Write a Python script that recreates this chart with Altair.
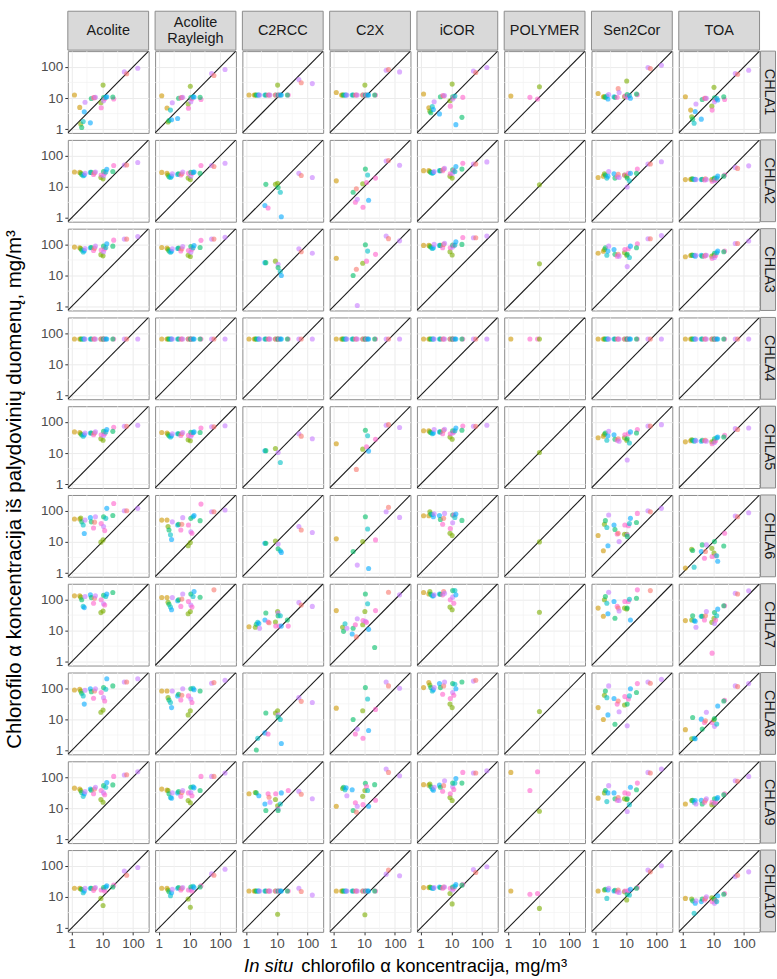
import altair as alt
import pandas as pd

N = None

METHODS = ["Acolite", "Acolite Rayleigh", "C2RCC", "C2X", "iCOR", "POLYMER", "Sen2Cor", "TOA"]
STRIP_LINES = [["Acolite"], ["Acolite", "Rayleigh"], ["C2RCC"], ["C2X"], ["iCOR"], ["POLYMER"], ["Sen2Cor"], ["TOA"]]
INDICES = ["CHLA1", "CHLA2", "CHLA3", "CHLA4", "CHLA5", "CHLA6", "CHLA7", "CHLA8", "CHLA9", "CHLA10"]

# in situ chlorophyll (mg/m3) of each sampling point, and its group (colour)
STATION_X = [1.25, 1.85, 2.0, 2.15, 2.4, 2.6, 2.75, 4.1, 4.4, 5.2, 5.6, 6.0, 9.0,
             9.2, 10.6, 11.0, 11.0, 12.0, 13.0, 14.0, 23.5, 22.0, 52.0, 62.0, 142.0]
STATION_GROUP = ["G2", "G2", "G3", "G4", "G5", "G6", "G7", "G6", "G4", "G8", "G1", "G7", "G3",
                 "G8", "G3", "G7", "G4", "G8", "G5", "G6", "G8", "G4", "G7", "G1", "G7"]
GROUPS = ["G1", "G2", "G3", "G4", "G5", "G6", "G7", "G8"]
GROUP_COLORS = ["#F8766D", "#CD9600", "#7CAE00", "#00BE67", "#00BFC4", "#00A9FF", "#C77CFF", "#FF61CC"]

ACOLITE = {
    "CHLA1": [12.5, 5.0, 1.48, 1.13, 1.76, 3.6, 7.3, 1.6, 9.7, 10.3, 10.3, 10.5, 7.1, 4.9, 26, 8.2, 10.3, 9.5, 10.5, 11, 9.3, 10.8, 69, 60, 90],
    "CHLA2": [30, 29, 27.5, 25, 22.5, 24, 27, 29, 29, 25, 28, 30, 20, 24, 18, 22.5, 31, 27, 30, 36.6, 48, 31, 50, 50, 60],
    "CHLA3": [82, 78, 74, 66, 57, 63, 74, 78, 80, 64, 76, 88, 47, 66, 43, 58, 88, 72, 80, 105, 137, 88, 148, 148, 180],
    "CHLA4": [65, 65, 65, 65, 65, 65, 65, 65, 65, 65, 65, 65, 65, 65, 65, 65, 65, 65, 65, 65, 65, 65, 65, 65, 65],
    "CHLA5": [48, 46, 42, 39, 35, 39, 44, 44, 44, 39, 44, 48, 29, 39, 26, 37, 50, 42, 48, 57, 68, 50, 73, 73, 78],
    "CHLA6": [54, 54, 58, 44, 35, 18.5, 50, 60, 44, 28, 43, 64, 9.8, 39, 11.6, 31, 64, 23, 57, 119, 171, 70, 100, 100, 119],
    "CHLA7": [131, 131, 119, 98, 60, 55, 125, 141, 115, 76, 110, 131, 38, 98, 43, 73, 137, 67, 125, 150, N, 167, N, N, N],
    "CHLA8": [88, 93, 82, 69, 57, 31, 86, 97, 78, 48, 82, 97, 17, 73, 20, 50, 105, 39, 93, 203, N, 119, 159, 159, 203],
    "CHLA9": [44, 41, 37, 32, 24, 29, 34, 41, 38, 29, 41, 47, 19, 37, 15.5, 31, 53, 27, 47, 67, 105, 56, 116, 118, 148],
    "CHLA10": [19, 19, 18, 17.6, 13.7, 15.5, 19, 19, 19, 16.3, 19, 20, 9, 16.7, 5.3, 17.6, 20, 15.5, 21, 23, 24, 21, 68, 50, 88],
}

ACOLITE_RAYLEIGH = {
    "CHLA1": [11.9, 4.8, 1.7, 1.9, 4.1, 2.0, 7.1, 2.2, 9.8, 10.2, 10.4, 10.5, 6.4, 4.7, 24, 7.6, 10.3, 9.5, 11, 10.8, 9, 10.5, 61, 53, 82],
    "CHLA2": [29, 27, 24, 21, 20, 22, 26, 25, 26, 24, 26, 30, 19, 27, 17, 22, 29, 27, 29, 30, 48, 27, 48, 45, 57],
    "CHLA3": [80, 76, 70, 62, 56, 60, 72, 74, 76, 62, 72, 86, 45, 64, 41, 56, 85, 70, 78, 92, 135, 80, 148, 148, 170],
    "CHLA4": [65, 65, 65, 65, 65, 65, 65, 65, 65, 65, 65, 65, 65, 65, 65, 65, 65, 65, 65, 65, 65, 65, 65, 65, 65],
    "CHLA5": [46, 44, 40, 36, 33, 36, 42, 42, 42, 37, 42, 46, 27, 37, 25, 35, 47, 40, 46, 48, 64, 46, 70, 70, 76],
    "CHLA6": [50, 50, 31, 24, 17, 12, 44, 35, 37, 24, 37, 60, 7.5, 35, 9.5, 21, 57, 19, 64, 70, 163, 48, 93, 93, 105],
    "CHLA7": [116, 116, 82, 70, 57, 47, 116, 91, 98, 60, 103, 151, 35, 86, 41, 67, 151, 57, 125, 180, N, 118, N, 204, N],
    "CHLA8": [82, 82, 50, 42, 35, 24, 82, 57, 64, 42, 60, 97, 14, 57, 19, 45, 97, 35, 100, 90, N, 82, 145, 152, 180],
    "CHLA9": [41, 38, 37, 29, 22, 21, 31, 31, 34, 24, 32, 37, 17.6, 31, 15, 32, 47, 25, 49, 45, 105, 37, 105, 105, 134],
    "CHLA10": [19, 19, 16.7, 14.8, 11, 13.7, 17.6, 19, 20, 16.7, 19, 20, 8.6, 16.7, 4.7, 17.6, 21, 15.5, 22, 20, 23, 21, 55, 50, 78],
}

C2RCC = {
    "CHLA1": [12.5, 12.5, 12.5, 12.5, 12.5, 12.5, 12.5, 12.5, 12.5, 12.5, 12.5, 12.5, 12.5, 12.5, 26, 12.5, 12.5, 12.5, 12.5, 12.5, 12.5, 12.5, 39, 31, 29],
    "CHLA2": [N, N, N, N, N, N, N, 2.5, 12, 2.1, N, N, 12, N, 13, N, 9.5, N, 6.7, 1.1, N, N, 27, 23, 20],
    "CHLA3": [N, N, N, N, N, N, N, 26, 26, N, N, N, 29, N, N, 23, 18, N, 13.4, 10, N, N, 73, 58, 52],
    "CHLA4": [65, 65, 65, 65, 65, 65, 65, 65, 65, 65, 65, 65, 65, 65, 65, 65, 65, 65, 65, 65, 65, 65, 65, 65, 65],
    "CHLA5": [N, N, N, N, N, N, N, 11.9, 12, N, N, N, 14, N, N, 10.5, N, N, 5, N, N, N, 42, 35, 29],
    "CHLA6": [N, N, N, N, N, N, N, 9, 9, N, N, N, 10.7, N, N, 8.6, 6, N, 5.2, 4.6, N, N, 31, 24, 20],
    "CHLA7": [13.4, N, 12.8, 16, 18.5, 17, 12, 22, 37, 19, 18, N, 19, 14, 41, 37, 30, 14, 30, 14, 14, 22, 80, 67, 60],
    "CHLA8": [N, N, N, 1.05, 2.5, N, N, 3.7, 16, 3.4, N, N, 16, N, 19, 14, 12, N, 10, 1.7, N, N, 50, 38, 35],
    "CHLA9": [29, N, 32, 31, N, 25, N, 13.7, 8.4, 29, 22.5, 15.5, 19, 29, 12, 9.5, 8.4, N, 13.7, 31, 37, N, 35, 28, 20],
    "CHLA10": [15.5, 15.5, 15.5, 15.5, 15.5, 15.5, 15.5, 15.5, 15.5, 15.5, 15.5, 15.5, 15.5, 15.5, 2.8, 15.5, 15.5, 15.5, 15.5, 15.5, 15.5, 15.5, 19, 15, 11.5],
}

C2X = {
    "CHLA1": [15, 12.5, 12.5, 12.5, 12.5, 12.5, 12.5, 12.5, 12.5, 12.5, 12.5, 12.5, 12.5, 12.5, 26, 12.5, 12.5, 12.5, 12.5, 12.5, 12.5, 12.5, 78, 82, 69],
    "CHLA2": [15.5, N, N, N, N, N, N, N, 6.7, 3.2, 8.6, 4, 12.5, 2.2, N, N, 37, 13.7, 24, 3.7, 19, N, 67, 70, 49],
    "CHLA3": [36, N, N, N, N, N, N, N, 10, N, 16, 1.1, 25, N, N, N, 98, 29, 61, N, 48, N, 186, 153, 130],
    "CHLA4": [65, 65, 65, 65, 65, 65, 65, 65, 65, 65, 65, 65, 65, 65, 65, 65, 65, 65, 65, 65, 65, 65, 65, 65, 65],
    "CHLA5": [20, N, N, N, N, N, N, N, N, N, 3, N, 13.4, N, N, N, 54, 16, 36, 11.6, 28, N, 78, 82, 66],
    "CHLA6": [12.5, N, N, N, N, N, N, N, 4.9, N, N, 1.8, 10.2, N, N, N, 64, N, 26, 1.4, 11.6, N, 93, 128, 61],
    "CHLA7": [44, N, 12.8, 9.5, 16.7, N, 12, 7.8, 12, 15.5, 6.3, 24, 15.5, 21, 41, 20, 151, 18.5, 73, 11, 44, 2.9, N, 170, 141],
    "CHLA8": [23, N, N, N, N, N, N, N, 10, 3.4, N, 4.9, 19, 2.5, N, N, 105, N, 45, 4.4, 21, N, 159, 119, 100],
    "CHLA9": [11.6, N, 43, 47, 39, 45, 25, 39, 8.4, 15, 7.5, 11.6, 24, 13, 37, N, 63, 50, 37, 11.6, 18, 57, 180, 141, 110],
    "CHLA10": [15.5, 15.5, 15.5, 15.5, 15.5, 15.5, 15.5, 15.5, 15.5, 15.5, 15.5, 15.5, 15.5, 15.5, 2.7, 15.5, 15.5, 15.5, 15.5, 15.5, 15.5, 15.5, 54, 73, 48],
}

ICOR = {
    "CHLA1": [13.4, 4.9, 3.8, 3.4, 5.3, 4.3, 7.6, 3.1, 11, 12, 11.6, 12, 8.2, 5.5, 28, 9.3, 11, 10.5, 11.6, 1.4, 10.5, 2.4, 74, 66, 95],
    "CHLA2": [33, 33, 31, 29, 27, 29, 31, 33, 33, 33, 37, 39, 22, 26, 19, 27, 35, 33, 31, 45, 57, 37, 54, 54, 63],
    "CHLA3": [93, 93, 88, 82, 74, 78, 100, 93, 93, 78, 100, 108, 58, 78, 46, 82, 95, 93, 95, 122, 167, 100, 163, 163, 185],
    "CHLA4": [65, 65, 65, 65, 65, 65, 65, 65, 65, 65, 65, 65, 65, 65, 65, 65, 65, 65, 65, 65, 65, 65, 65, 65, 65],
    "CHLA5": [52, 52, 48, 46, 42, 44, 57, 48, 48, 42, 54, 58, 33, 42, 28, 44, 52, 48, 52, 64, 74, 54, 73, 73, 78],
    "CHLA6": [69, 69, 93, 78, 76, 64, 80, 70, 52, 37, 57, 82, 19, 27, 16, 41, 73, 73, 61, 78, N, 49, N, N, N],
    "CHLA7": [167, 150, 180, 148, 131, 131, 141, 150, 148, 141, 180, 159, 57, 98, 47, 119, 193, 76, 193, 141, N, N, N, N, N],
    "CHLA8": [105, 152, 128, 105, 82, 90, 105, 141, 105, 64, 119, 159, 31, 47, 24, 73, 141, 60, 134, 97, N, 159, 170, 180, N],
    "CHLA9": [57, 55, 60, 49, 41, 38, 47, 55, 47, 35, 53, 76, 22, 29, 17.6, 49, 64, 40, 64, 90, 141, 64, 134, 134, 159],
    "CHLA10": [20, 20, 21, 20, 19, 19, 20, 21, 20, 19, 21, 21, 13, 19, 6, 16.7, 21, 19, 22, 25, 25, 24, 76, 61, 93],
}

POLYMER = {
    "CHLA1": [11.6, N, N, N, N, N, N, N, N, 10.5, N, N, N, 9.3, 23, N, N, N, N, N, N, N, N, N, N],
    "CHLA2": [N, N, N, N, N, N, N, N, N, N, N, N, N, N, 11.6, N, N, N, N, N, N, N, N, N, N],
    "CHLA3": [N, N, N, N, N, N, N, N, N, N, N, N, N, N, 24, N, N, N, N, N, N, N, N, N, N],
    "CHLA4": [65, N, N, N, N, N, N, N, N, 65, N, N, N, 65, 65, N, N, N, N, N, N, N, N, N, N],
    "CHLA5": [N, N, N, N, N, N, N, N, N, N, N, N, N, N, 10.5, N, N, N, N, N, N, N, N, N, N],
    "CHLA6": [N, N, N, N, N, N, N, N, N, N, N, N, N, N, 10, N, N, N, N, N, N, N, N, N, N],
    "CHLA7": [N, N, N, N, N, N, N, N, N, N, N, N, N, N, 39, N, N, N, N, N, N, N, N, N, N],
    "CHLA8": [N, N, N, N, N, N, N, N, N, N, N, N, N, N, 18, N, N, N, N, N, N, N, N, N, N],
    "CHLA9": [141, N, N, N, N, N, N, N, N, 37, N, N, N, 148, 8, N, N, N, N, N, N, N, N, N, N],
    "CHLA10": [15.5, N, N, N, N, N, N, N, N, 12.2, N, N, N, 13, 4.3, N, N, N, N, N, N, N, N, N, N],
}

SEN2COR = {
    "CHLA1": [14, 11, 11, 10.5, 11.6, 9.3, 13, 11, 10.5, 10.5, 20, 15, 11, 11.6, 35, 10.5, 13, 11.6, 12, 9.8, 12.8, 13.4, 95, 88, 113],
    "CHLA2": [20, 22, 26, 24, 19, 22, 31, 26, 19, 21, 25, 20, 24, 24, 22, 9.8, 19, 27, 15.5, 27, 37, 27, 54, 54, 64],
    "CHLA3": [52, 60, 69, 78, 45, 61, 88, 69, 48, 42, 48, 42, 54, 69, 45, 19.4, 48, 73, 38, 88, 105, 78, 152, 152, 193],
    "CHLA4": [65, 65, 65, 65, 65, 65, 65, 65, 65, 65, 65, 65, 65, 65, 65, 65, 65, 65, 65, 65, 65, 65, 65, 65, 65],
    "CHLA5": [31, 35, 40, 44, 26, 36, 50, 39, 28, 26, 29, 24, 31, 39, 26, 6, 29, 42, 21, 48, 57, 44, 74, 74, 82],
    "CHLA6": [16, 5.2, 37, 48, 29, 7.5, 73, 35, 25, 18, 19, 10.2, 17.6, 35, 17.6, 17, 15, 33, 39, 57, 82, 42, 100, 92, 119],
    "CHLA7": [53, 29, 98, 125, 76, 35, 171, 86, 25, 60, 53, 43, 53, 86, 50, N, 53, 86, 102, 22, 204, 110, N, 193, N],
    "CHLA8": [24, 10, 60, 82, 50, 14, 119, 47, 7, 31, 39, 17.6, 29, 54, N, 6.3, 31, 45, 57, 97, 141, 73, 159, 145, 193],
    "CHLA9": [21, N, 31, 37, 16.3, 31, 53, 31, 20, 18, 22, 17.6, 20, 31, 19, 7.8, 20, 29, 13, 47, 64, 39, 141, 134, 180],
    "CHLA10": [15.5, N, 16.7, 17.6, 9, 16.7, 19, 15.5, 16.5, 14.8, 16.7, 14, 14.8, 15.5, 8, 14.8, 12.2, 16, 11.6, 17.6, 20, 19, 73, 64, 100],
}

TOA = {
    "CHLA1": [11, 4.1, 2.5, 2.1, 1.55, 3.7, 6.4, 2.1, 9, 9.8, 9.8, 9.8, 5.5, 4.1, 22, 7.6, 10.2, 9, 9.8, 8.6, 9, 11, 61, 58, 78],
    "CHLA2": [17, 17.5, 17.6, 18, 17, 17.5, 17, 17, 17.5, 16.5, 18, 17, 17, 15, 17.6, 16, 19, 17, 19, 22, 24, 22, 42, 39, 47],
    "CHLA3": [40, 44, 46, 45, 45, 42, 45, 45, 42, 42, 45, 45, 42, 36, 45, 38, 52, 44, 54, 61, 61, 58, 107, 107, 128],
    "CHLA4": [65, 65, 65, 65, 65, 65, 65, 65, 65, 65, 65, 65, 65, 65, 65, 65, 65, 65, 65, 65, 65, 65, 65, 65, 65],
    "CHLA5": [23, 25, 27, 26, 24, 26, 25, 24, 26, 25, 26, 24, 23, 20, 24, 22, 29, 25, 31, 33, 37, 33, 61, 57, 64],
    "CHLA6": [1.45, N, 5.8, 5.3, 1.55, N, N, 4.9, 8, 3.0, 4.9, 8, 6.2, 3.4, 4.4, N, 10.2, 3.6, 3.6, 2.4, 19, 7.4, 68, 64, 86],
    "CHLA7": [21, N, 22, 30, 21, 20, 12.8, 29, 29, 22, 30, 41, 18.5, 1.9, 25, 17, 38, 22, 30, 49, 63, 63, 159, 151, 190],
    "CHLA8": [4.7, N, 2.4, 11.6, 2.5, 2.4, N, 10.2, 4.9, 8, 9, 17, N, 8, 9.8, 6, 10.7, N, 7.1, 27, 41, 39, 119, 113, 141],
    "CHLA9": [13.7, N, 17.6, 18, 15.5, 17.6, 13.7, 18, 13.7, 15.5, 18, 20, 12.8, 15.5, 13.7, 14.4, 20, 16, 20, 22, 29, 27, 76, 73, 105],
    "CHLA10": [9, N, 8.6, 7.5, 3, 6.3, 7.5, 7.1, 8.6, 8, 9, 10.2, 9.5, 7.1, 8.6, 6.3, 8.6, 7.5, 7.1, 11, 13, 12.2, 45, 50, 64],
}

SATELLITE = {
    "Acolite": ACOLITE, "Acolite Rayleigh": ACOLITE_RAYLEIGH, "C2RCC": C2RCC, "C2X": C2X,
    "iCOR": ICOR, "POLYMER": POLYMER, "Sen2Cor": SEN2COR, "TOA": TOA,
}

AXIS_RANGE = [0.76, 320]
MAJOR_BREAKS = [1, 10, 100]
MINOR_BREAKS = [3.162, 31.62]
ONE_TO_ONE = [0.76, 320]

Y_TITLE = "Chlorofilo α koncentracija iš palydovinių duomenų, mg/m³"
X_TITLE_ITALIC = "In situ"
X_TITLE_REST = "chlorofilo α koncentracija,  mg/m³"

# ---------------------------------------------------------------- table
records = []
for m in METHODS:
    for idx in INDICES:
        vals = SATELLITE[m][idx]
        assert len(vals) == len(STATION_X), (m, idx, len(vals))
        for k, v in enumerate(vals):
            if v is not None:
                records.append({"method": m, "idx": idx, "x": STATION_X[k], "y": v, "g": STATION_GROUP[k]})
df = pd.DataFrame(records)
minor_df = pd.DataFrame({"v": MINOR_BREAKS})
diag_df = pd.DataFrame({"v": ONE_TO_ONE})

FONT = "Liberation Sans"
PW, PH = 81, 82
HSP, VSP = 6.5, 7
GRID_H = len(INDICES) * PH + (len(INDICES) - 1) * VSP


def text_layer(txt, **kw):
    enc = {k: v for k, v in kw.items() if k in ("x", "y")}
    mk = {k: v for k, v in kw.items() if k not in ("x", "y")}
    return alt.Chart(pd.DataFrame({"t": [txt]})).mark_text(font=FONT, **mk).encode(text="t:N", **enc)


def panel(r, c):
    m, idx = METHODS[c], INDICES[r]
    bottom, left = r == len(INDICES) - 1, c == 0
    xs = alt.Scale(type="log", domain=AXIS_RANGE, nice=False)
    ys = alt.Scale(type="log", domain=AXIS_RANGE, nice=False)
    xax = alt.Axis(values=MAJOR_BREAKS, title=None, labels=bottom, ticks=bottom, format="~g",
                   labelFlush=False, labelOverlap=False, grid=True)
    yax = alt.Axis(values=MAJOR_BREAKS, title=None, labels=left, ticks=left, format="~g",
                   labelFlush=False, labelOverlap=False, grid=True)

    minor_x = alt.Chart(minor_df).mark_rule(color="#F2F2F2", strokeWidth=0.7).encode(
        x=alt.X("v:Q", scale=xs, axis=xax))
    minor_y = alt.Chart(minor_df).mark_rule(color="#F2F2F2", strokeWidth=0.7).encode(
        y=alt.Y("v:Q", scale=ys, axis=yax))
    line = alt.Chart(diag_df).mark_line(color="#1A1A1A", strokeWidth=1.1, clip=True).encode(
        x=alt.X("v:Q", scale=xs, axis=xax), y=alt.Y("v:Q", scale=ys, axis=yax))
    pts = alt.Chart(df).transform_filter(
        f"datum.method === '{m}' && datum.idx === '{idx}'"
    ).mark_circle(size=26, opacity=0.6).encode(
        x=alt.X("x:Q", scale=xs, axis=xax),
        y=alt.Y("y:Q", scale=ys, axis=yax),
        color=alt.Color("g:N", scale=alt.Scale(domain=GROUPS, range=GROUP_COLORS), legend=None),
    )
    layers = [minor_x, minor_y, line, pts]
    if r == 0:
        layers.append(alt.Chart(pd.DataFrame({"t": [m]})).mark_rect(
            fill="#D9D9D9", stroke="#8C8C8C", strokeWidth=1).encode(
            x=alt.value(0), x2=alt.value(PW), y=alt.value(-40), y2=alt.value(-1)))
        lines = STRIP_LINES[c]
        n = len(lines)
        for k, ln in enumerate(lines):
            yy = -20.5 + (k - (n - 1) / 2) * 16
            layers.append(text_layer(ln, fontSize=14.5, color="#1A1A1A", baseline="middle",
                                     align="center", x=alt.value(PW / 2), y=alt.value(yy)))
    if c == len(METHODS) - 1:
        layers.append(alt.Chart(pd.DataFrame({"t": [idx]})).mark_rect(
            fill="#D9D9D9", stroke="#8C8C8C", strokeWidth=1).encode(
            x=alt.value(PW + 1), x2=alt.value(PW + 16), y=alt.value(0), y2=alt.value(PH)))
        layers.append(text_layer(idx, fontSize=14.5, color="#1A1A1A", angle=90, baseline="middle",
                                 align="center", x=alt.value(PW + 9), y=alt.value(PH / 2)))
    if r == 0 and c == 0:
        layers.append(text_layer(Y_TITLE, fontSize=20.5, color="#000000", angle=270, baseline="middle",
                                 align="center", x=alt.value(-52.5), y=alt.value(GRID_H / 2 - 2)))
    if bottom and c == 0:
        layers.append(text_layer(X_TITLE_ITALIC, fontSize=18.5, fontStyle="italic", color="#000000",
                                 baseline="middle", align="right", x=alt.value(226), y=alt.value(PH + 34)))
        layers.append(text_layer(X_TITLE_REST, fontSize=18.5, color="#000000",
                                 baseline="middle", align="left", x=alt.value(234), y=alt.value(PH + 34)))
    return alt.layer(*layers).properties(width=PW, height=PH)


panels = [panel(r, c) for r in range(len(INDICES)) for c in range(len(METHODS))]

chart = alt.concat(
    *panels, columns=len(METHODS), spacing={"row": VSP, "column": HSP}, bounds="flush"
).properties(
    padding={"left": 4, "top": 9, "right": 0, "bottom": 0},
).configure_view(
    stroke="#8C8C8C", strokeWidth=1
).configure_axis(
    gridColor="#EBEBEB", gridWidth=1, domain=False, tickColor="#333333", tickSize=3,
    labelColor="#4D4D4D", labelFont=FONT, labelFontSize=13.5, labelPadding=2,
)

chart.save("out.html", embed_options={"renderer": "svg", "actions": False})
